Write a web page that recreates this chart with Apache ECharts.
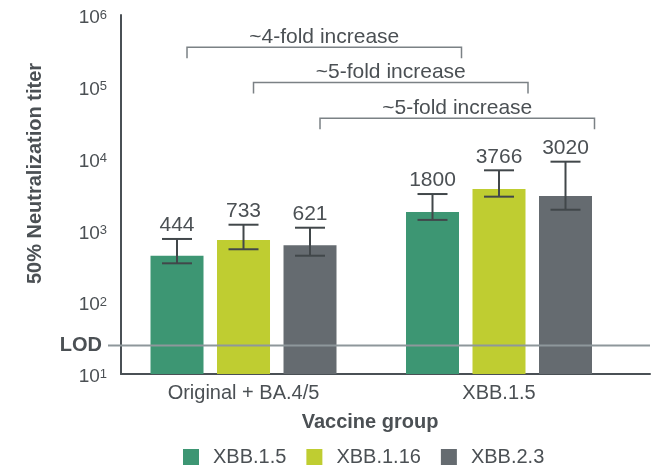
<!DOCTYPE html>
<html>
<head>
<meta charset="utf-8">
<script src="https://cdn.jsdelivr.net/npm/echarts@6/dist/echarts.min.js"></script>
<style>
  html, body { margin: 0; padding: 0; background: #ffffff; }
  #chart { width: 659px; height: 468px; }
</style>
</head>
<body>
<div id="chart"></div>
<script>
// Vaccine groups (x categories) and the variants tested in each group
const groups = ['Original + BA.4/5', 'XBB.1.5'];
const variants = ['XBB.1.5', 'XBB.1.16', 'XBB.2.3'];

// Geometric mean 50% neutralization titers, one value per vaccine group
const titerXBB15 = [444, 1800];
const titerXBB116 = [733, 3766];
const titerXBB23 = [621, 3020];

// Confidence interval bounds for each bar
const lowXBB15 = [348, 1400];
const highXBB15 = [760, 3210];
const lowXBB116 = [546, 2950];
const highXBB116 = [1200, 6870];
const lowXBB23 = [444, 1940];
const highXBB23 = [1090, 9060];

// Limit of detection
const lodValue = 25;
const lodLabel = 'LOD';

// Fold-increase annotations (one per variant) and the titer level of each bracket
const foldLabels = ['~4-fold increase', '~5-fold increase', '~5-fold increase'];
const bracketLevels = [355000, 115000, 36400];

const colors = ['#3d9673', '#bfcd31', '#656b70'];
const textColor = '#4b5054';
const axisColor = '#4a5055';
const FONT = '"Liberation Sans", Arial, sans-serif';
const BAR_W = 53;
const PITCH = 66.5;
const X_MIN = -0.4795;
const X_MAX = 1.591;

const titers = [titerXBB15, titerXBB116, titerXBB23];
const lows = [lowXBB15, lowXBB116, lowXBB23];
const highs = [highXBB15, highXBB116, highXBB23];

function barRenderer(si) {
  return function (params, api) {
    const g = api.value(0);
    const v = api.value(1);
    const lo = api.value(2);
    const hi = api.value(3);
    const base = api.coord([g, 10]);
    const top = api.coord([g, v]);
    const cx = base[0] + (si - 1) * PITCH;
    const yLo = api.coord([g, lo])[1];
    const yHi = api.coord([g, hi])[1];
    const capHalf = 15;
    const errStyle = { stroke: '#41474a', lineWidth: 2 };
    return {
      type: 'group',
      children: [
        { type: 'rect', shape: { x: cx - BAR_W / 2, y: top[1], width: BAR_W, height: base[1] - top[1] },
          style: { fill: colors[si] } },
        { type: 'line', shape: { x1: cx, y1: yLo, x2: cx, y2: yHi }, style: errStyle },
        { type: 'line', shape: { x1: cx - capHalf, y1: yLo, x2: cx + capHalf, y2: yLo }, style: errStyle },
        { type: 'line', shape: { x1: cx - capHalf, y1: yHi, x2: cx + capHalf, y2: yHi }, style: errStyle },
        { type: 'text', x: cx, y: yHi - 3,
          style: { text: String(v), fill: textColor, font: '21px ' + FONT,
                   align: 'center', verticalAlign: 'bottom' } }
      ]
    };
  };
}

const barSeries = variants.map(function (name, si) {
  return {
    name: name,
    type: 'custom',
    itemStyle: { color: colors[si] },
    renderItem: barRenderer(si),
    encode: { x: 0, y: 1 },
    clip: false,
    z: 2,
    data: groups.map(function (gName, gi) {
      return [gi, titers[si][gi], lows[si][gi], highs[si][gi]];
    })
  };
});

const bracketSeries = {
  name: 'fold',
  type: 'custom',
  silent: true,
  clip: false,
  z: 3,
  encode: { y: 1 },
  renderItem: function (params, api) {
    const i = params.dataIndex;
    const lvl = api.value(1);
    const p0 = api.coord([0, lvl]);
    const p1 = api.coord([1, lvl]);
    const x1 = p0[0] + (i - 1) * PITCH + 10;
    const x2 = p1[0] + (i - 1) * PITCH + 29;
    const y = p0[1];
    const drop = 11;
    const st = { stroke: '#7b8185', lineWidth: 1.5, fill: null };
    return {
      type: 'group',
      children: [
        { type: 'polyline', shape: { points: [[x1, y + drop], [x1, y], [x2, y], [x2, y + drop]] }, style: st },
        { type: 'text', x: (x1 + x2) / 2, y: y - 10,
          style: { text: foldLabels[i], fill: textColor, font: '21px ' + FONT,
                   align: 'center', verticalAlign: 'middle' } }
      ]
    };
  },
  data: bracketLevels.map(function (lvl, i) { return [i, lvl]; })
};

const lodSeries = {
  name: 'lod',
  type: 'custom',
  silent: true,
  clip: false,
  z: 4,
  encode: { y: 1 },
  renderItem: function (params, api) {
    const a = api.coord([X_MIN, api.value(1)]);
    const b = api.coord([X_MAX, api.value(1)]);
    return {
      type: 'group',
      children: [
        { type: 'line', shape: { x1: a[0] - 13, y1: a[1], x2: b[0], y2: b[1] },
          style: { stroke: '#8e979b', lineWidth: 2 } },
        { type: 'text', x: a[0] - 19, y: a[1],
          style: { text: lodLabel, fill: textColor, font: 'bold 20px ' + FONT,
                   align: 'right', verticalAlign: 'middle' } }
      ]
    };
  },
  data: [[0, lodValue]]
};

const chart = echarts.init(document.getElementById('chart'), null, { renderer: 'canvas' });
chart.setOption({
  animation: false,
  backgroundColor: '#ffffff',
  textStyle: { fontFamily: FONT },
  grid: { left: 121, right: 9, top: 15, bottom: 94, containLabel: false, outerBoundsMode: 'none' },
  legend: {
    data: variants,
    left: 183,
    top: 447,
    padding: 0,
    icon: 'rect',
    itemWidth: 16,
    itemHeight: 16,
    itemGap: 20,
    textStyle: { fontSize: 20, color: textColor, padding: [0, 0, 0, 9] }
  },
  xAxis: {
    type: 'value',
    min: X_MIN,
    max: X_MAX,
    name: 'Vaccine group',
    nameLocation: 'middle',
    nameGap: 38,
    nameTextStyle: { fontSize: 20, fontWeight: 'bold', color: textColor, padding: [0, 31, 0, 0] },
    axisLine: { show: true, onZero: false, lineStyle: { color: axisColor, width: 2 } },
    axisTick: { show: false },
    splitLine: { show: false },
    axisLabel: {
      customValues: [0, 1],
      formatter: function (v) { return groups[Math.round(v)]; },
      fontSize: 20,
      color: textColor,
      margin: 9
    }
  },
  yAxis: {
    type: 'log',
    logBase: 10,
    min: 10,
    max: 1000000,
    name: '50% Neutralization titer',
    nameLocation: 'middle',
    nameGap: 76,
    nameTextStyle: { fontSize: 20, fontWeight: 'bold', color: textColor, padding: [0, 0, 0, 42] },
    axisLine: { show: true, onZero: false, lineStyle: { color: axisColor, width: 2 } },
    axisTick: { show: false },
    splitLine: { show: false },
    axisLabel: {
      margin: 14,
      padding: [6, 0, 0, 0],
      formatter: function (v) {
        const e = Math.round(Math.log10(v));
        return '{b|10}{s|' + e + '}';
      },
      rich: {
        b: { fontSize: 19, color: textColor },
        s: { fontSize: 13, color: textColor, verticalAlign: 'top' }
      }
    }
  },
  series: barSeries.concat([bracketSeries, lodSeries])
});
</script>
</body>
</html>
